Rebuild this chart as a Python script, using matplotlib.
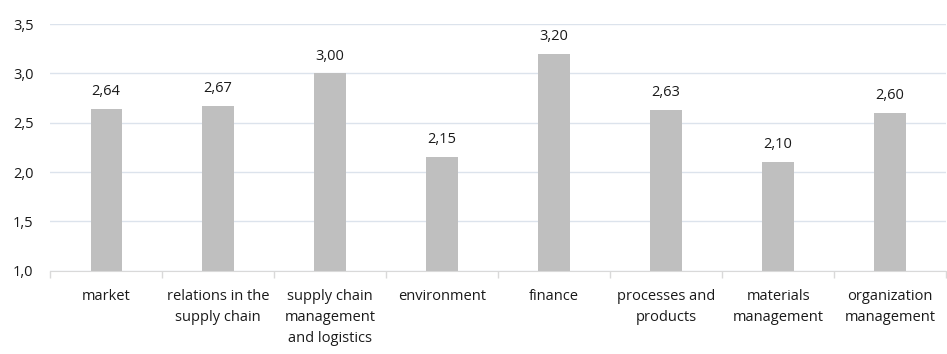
import numpy as np
import matplotlib.pyplot as plt

categories = ['market', 'relations in the\nsupply chain', 'supply chain\nmanagement\nand logistics',
              'environment', 'finance', 'processes and\nproducts', 'materials\nmanagement',
              'organization\nmanagement']
values = [2.64, 2.67, 3.00, 2.15, 3.20, 2.63, 2.10, 2.60]
y_ticks = [1.0, 1.5, 2.0, 2.5, 3.0, 3.5]

plt.rcParams['font.family'] = ['Open Sans', 'DejaVu Sans']

fig = plt.figure(figsize=(9.47, 3.54), dpi=100)
ax = fig.add_axes([0.053, 0.235, 0.946, 0.697])

x = np.arange(len(categories))
base = 1.0
ax.bar(x, np.array(values) - base, bottom=base, width=0.28, color='#BFBFBF', zorder=3)

for xi, v in zip(x, values):
    ax.text(xi, v + 0.1, f'{v:.2f}'.replace('.', ','), ha='center', va='bottom',
            fontsize=10.5, color='#1a1a1a')

ax.set_xlim(-0.5, len(categories) - 0.5)
ax.set_ylim(1.0, 3.5)
ax.set_yticks(y_ticks)
ax.set_yticklabels([f'{t:.1f}'.replace('.', ',') for t in y_ticks], fontsize=10.5, color='#1a1a1a')
ax.set_xticks(x)
ax.set_xticklabels(categories, fontsize=10.5, color='#1a1a1a', linespacing=1.55)
ax.set_xticks(np.arange(-0.5, len(categories)), minor=True)

ax.tick_params(axis='x', which='major', length=0, pad=13)
ax.tick_params(axis='x', which='minor', length=5, color='#D9D9D9', width=1)
ax.tick_params(axis='y', length=0, pad=12)

ax.grid(axis='y', color='#DCE3EC', linewidth=1, zorder=0)
for s in ['top', 'right', 'left']:
    ax.spines[s].set_visible(False)
ax.spines['bottom'].set_color('#D9D9D9')
ax.spines['bottom'].set_zorder(4)

fig.savefig('out.png', dpi=100)
